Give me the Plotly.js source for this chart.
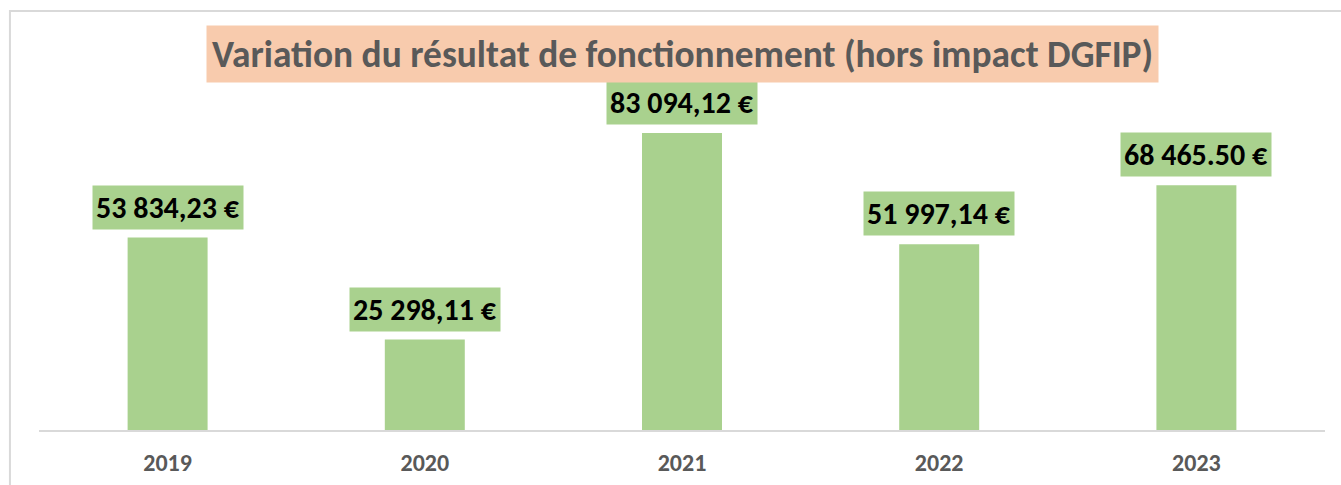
<!DOCTYPE html>
<html>
<head>
<meta charset="utf-8">
<script src="https://cdn.plot.ly/plotly-3.0.1.min.js"></script>
<style>
  html, body { margin: 0; padding: 0; background: #fff; }
  #chart { width: 1341px; height: 485px; }
</style>
</head>
<body>
<div id="chart"></div>
<script>
const years = ['2019', '2020', '2021', '2022', '2023'];
const values = [53834.23, 25298.11, 83094.12, 51997.14, 68465.50];
const valueLabels = ['53 834,23 €', '25 298,11 €', '83 094,12 €', '51 997,14 €', '68 465.50 €'];
const chartTitle = 'Variation du résultat de fonctionnement (hors impact DGFIP)';

const FONT = 'Carlito, "Open Sans", "Noto Sans", sans-serif';
const green = '#A9D18E';

const trace = {
  type: 'bar',
  x: years,
  y: values,
  marker: { color: green },
  hoverinfo: 'skip'
};

// annotation x given as the category index (year strings would be read as numbers)
const annotations = years.map((yr, i) => ({
  x: i, y: values[i], xref: 'x', yref: 'y',
  text: valueLabels[i],
  showarrow: false,
  yanchor: 'bottom', xanchor: 'center',
  yshift: 8,
  bgcolor: green,
  borderpad: 3,
  font: { family: FONT, size: 30, color: '#000000', weight: 'bold' }
}));

annotations.push({
  x: 0.5004, y: 1.0757, xref: 'paper', yref: 'paper',
  text: chartTitle,
  showarrow: false,
  xanchor: 'center', yanchor: 'middle',
  bgcolor: '#F8CBAD',
  borderpad: 5,
  font: { family: FONT, size: 37.4, color: '#595959', weight: 'bold' }
});

const layout = {
  width: 1341, height: 485,
  margin: { l: 39, r: 16, t: 80, b: 55 },
  paper_bgcolor: '#ffffff',
  plot_bgcolor: '#ffffff',
  showlegend: false,
  bargap: 0.689,
  font: { family: FONT },
  xaxis: {
    type: 'category',
    categoryorder: 'array',
    categoryarray: years,
    range: [-0.5, 4.5],
    showline: true, linecolor: '#D9D9D9', linewidth: 2,
    ticks: 'outside', ticklen: 10, tickcolor: 'rgba(0,0,0,0)',
    showgrid: false, zeroline: false,
    tickfont: { family: FONT, size: 24, color: '#595959', weight: 'bold' }
  },
  yaxis: {
    range: [0, 97930],
    visible: false, showgrid: false, zeroline: false
  },
  shapes: [{
    type: 'rect', xref: 'paper', yref: 'paper',
    x0: -0.0226, x1: 1.02, y0: -0.2, y1: 1.197,
    line: { color: '#D9D9D9', width: 2 },
    fillcolor: 'rgba(0,0,0,0)',
    layer: 'below'
  }],
  annotations: annotations
};

Plotly.newPlot('chart', [trace], layout, { displayModeBar: false, staticPlot: true });
</script>
</body>
</html>
